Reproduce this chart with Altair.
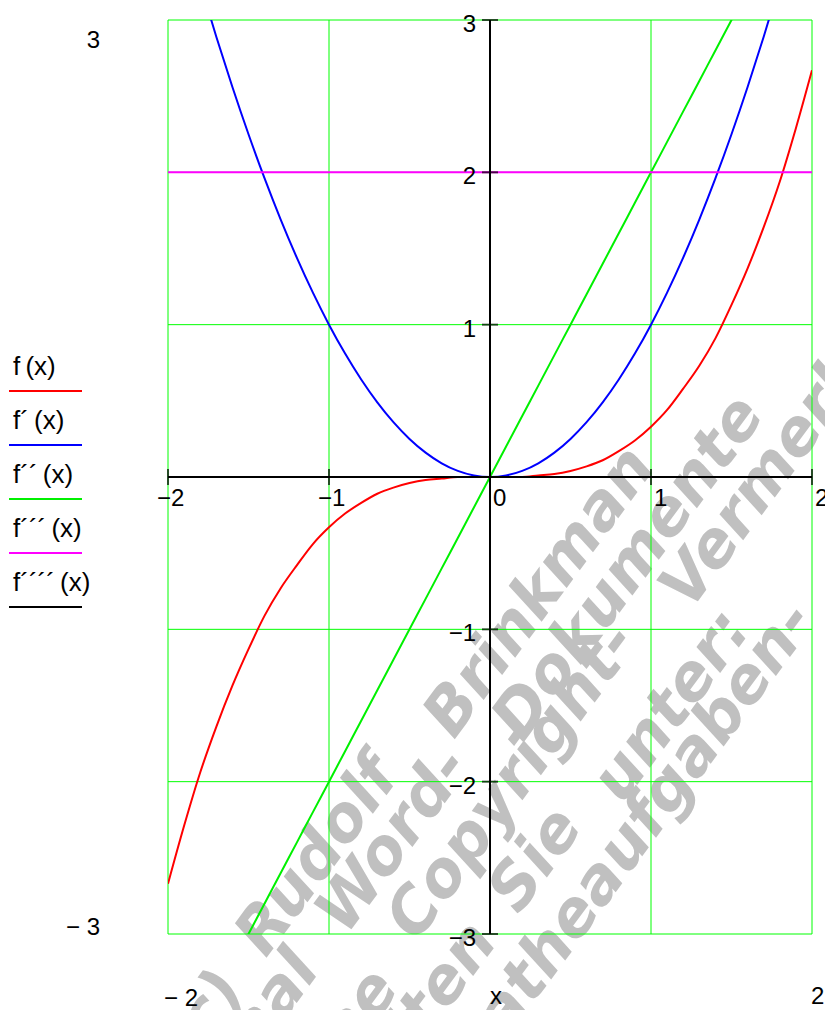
import altair as alt
import pandas as pd

# ---- sampled curves -----------------------------------------------------
x_vals = [-2.0, -1.9, -1.8, -1.7, -1.6, -1.5, -1.4, -1.3, -1.2, -1.1, -1.0,
          -0.9, -0.8, -0.7, -0.6, -0.5, -0.4, -0.3, -0.2, -0.1, 0.0,
          0.1, 0.2, 0.3, 0.4, 0.5, 0.6, 0.7, 0.8, 0.9, 1.0,
          1.1, 1.2, 1.3, 1.4, 1.5, 1.6, 1.7, 1.8, 1.9, 2.0]
f_vals = [-2.67, -2.29, -1.94, -1.64, -1.37, -1.13, -0.91, -0.73, -0.58, -0.44, -0.33,
          -0.24, -0.17, -0.11, -0.07, -0.04, -0.02, -0.01, 0.0, 0.0, 0.0,
          0.0, 0.0, 0.01, 0.02, 0.04, 0.07, 0.11, 0.17, 0.24, 0.33,
          0.44, 0.58, 0.73, 0.91, 1.13, 1.37, 1.64, 1.94, 2.29, 2.67]
f1_vals = [4.0, 3.61, 3.24, 2.89, 2.56, 2.25, 1.96, 1.69, 1.44, 1.21, 1.0,
           0.81, 0.64, 0.49, 0.36, 0.25, 0.16, 0.09, 0.04, 0.01, 0.0,
           0.01, 0.04, 0.09, 0.16, 0.25, 0.36, 0.49, 0.64, 0.81, 1.0,
           1.21, 1.44, 1.69, 1.96, 2.25, 2.56, 2.89, 3.24, 3.61, 4.0]
f2_vals = [-4.0, -3.8, -3.6, -3.4, -3.2, -3.0, -2.8, -2.6, -2.4, -2.2, -2.0,
           -1.8, -1.6, -1.4, -1.2, -1.0, -0.8, -0.6, -0.4, -0.2, 0.0,
           0.2, 0.4, 0.6, 0.8, 1.0, 1.2, 1.4, 1.6, 1.8, 2.0,
           2.2, 2.4, 2.6, 2.8, 3.0, 3.2, 3.4, 3.6, 3.8, 4.0]
x_ends = [-2.0, 2.0]
f3_vals = [2.0, 2.0]
f4_vals = [0.0, 0.0]

series_names = ["f(x)", "f´(x)", "f´´(x)", "f´´´(x)", "f´´´´(x)"]
series_colors = ["#ff0000", "#0000ff", "#00f000", "#ff00ff", "#000000"]

grid_x = [-2, -1, 0, 1, 2]
grid_y = [-3, -2, -1, 0, 1, 2, 3]
tick_x = [-2, -1, 0, 1, 2]
tick_x_text = ["−2", "−1", "0", "1", "2"]
tick_y = [-3, -2, -1, 1, 2, 3]
tick_y_text = ["−3", "−2", "−1", "1", "2", "3"]

# ---- layout ---------------------------------------------------------------
W, H = 644, 914
LEFT, TOP = 168, 20
FONT = "Liberation Sans"
FS = 24
GRID = "#00ff00"

xs = alt.Scale(domain=[-2, 2], nice=False, zero=False)
ys = alt.Scale(domain=[-3, 3], nice=False, zero=False)

one = pd.DataFrame({"k": [0]})


def px(x):
    return alt.value(x - LEFT)


def py(y):
    return alt.value(y - TOP)


curves = pd.concat([
    pd.DataFrame({"x": x_vals, "y": f_vals, "name": series_names[0]}),
    pd.DataFrame({"x": x_vals, "y": f1_vals, "name": series_names[1]}),
    pd.DataFrame({"x": x_vals, "y": f2_vals, "name": series_names[2]}),
    pd.DataFrame({"x": x_ends, "y": f3_vals, "name": series_names[3]}),
    pd.DataFrame({"x": x_ends, "y": f4_vals, "name": series_names[4]}),
])

layers = []

# watermark, drawn underneath everything
wm_words = [
    ("(c)", 204, 1017), ("Rudolf", 318, 856), ("Brinkman", 540, 592),
    ("Original", 222, 1072), ("Word-", 394, 840), ("Dokumente", 629, 568),
    ("ohne", 333, 1048), ("Copyright-", 513, 781), ("Vermerk", 764, 480),
    ("erhalten", 394, 1051), ("Sie", 536, 860), ("unter:", 672, 706),
    ("matheaufgaben-", 627, 845),
]
for word, cx, cy in wm_words:
    layers.append(
        alt.Chart(one).mark_text(
            font="DejaVu Sans", fontSize=63, fontWeight="bold", fontStyle="italic",
            color="#c0c0c0", angle=306.5, align="center", baseline="middle",
        ).encode(x=px(cx), y=py(cy), text=alt.value(word))
    )

# grid
layers.append(
    alt.Chart(pd.DataFrame({"gx": grid_x})).mark_rule(color=GRID, strokeWidth=1)
    .encode(x=alt.X("gx:Q", scale=xs, axis=None))
)
layers.append(
    alt.Chart(pd.DataFrame({"gy": grid_y})).mark_rule(color=GRID, strokeWidth=1)
    .encode(y=alt.Y("gy:Q", scale=ys, axis=None))
)

# curves
layers.append(
    alt.Chart(curves).mark_line(strokeWidth=2, clip=True, interpolate="monotone")
    .encode(
        x=alt.X("x:Q", scale=xs, axis=None),
        y=alt.Y("y:Q", scale=ys, axis=None),
        color=alt.Color("name:N", scale=alt.Scale(domain=series_names, range=series_colors), legend=None),
    )
)

# crossing axes through the origin
layers.append(
    alt.Chart(pd.DataFrame({"v": [0]})).mark_rule(color="black", strokeWidth=2)
    .encode(y=alt.Y("v:Q", scale=ys, axis=None))
)
layers.append(
    alt.Chart(pd.DataFrame({"v": [0]})).mark_rule(color="black", strokeWidth=2)
    .encode(x=alt.X("v:Q", scale=xs, axis=None))
)

xt = pd.DataFrame({"t": tick_x, "lab": tick_x_text})
yt = pd.DataFrame({"t": tick_y, "lab": tick_y_text})

layers.append(
    alt.Chart(xt).transform_calculate(o="0")
    .mark_tick(orient="vertical", size=16, thickness=2, color="black")
    .encode(x=alt.X("t:Q", scale=xs, axis=None), y=alt.Y("o:Q", scale=ys, axis=None))
)
layers.append(
    alt.Chart(yt).transform_calculate(o="0")
    .mark_tick(orient="horizontal", size=16, thickness=2, color="black")
    .encode(x=alt.X("o:Q", scale=xs, axis=None), y=alt.Y("t:Q", scale=ys, axis=None))
)

# tick labels: digit starts just right of the tick, minus hangs to the left
for cond, shift in [("datum.t < 0", -11), ("datum.t >= 0", 3)]:
    layers.append(
        alt.Chart(xt).transform_filter(cond).transform_calculate(o="0")
        .mark_text(font=FONT, fontSize=FS, align="left", baseline="alphabetic", dx=shift, dy=29)
        .encode(x=alt.X("t:Q", scale=xs, axis=None), y=alt.Y("o:Q", scale=ys, axis=None), text="lab:N")
    )
layers.append(
    alt.Chart(yt).transform_calculate(o="0")
    .mark_text(font=FONT, fontSize=FS, align="right", baseline="alphabetic", dx=-14, dy=12)
    .encode(x=alt.X("o:Q", scale=xs, axis=None), y=alt.Y("t:Q", scale=ys, axis=None), text="lab:N")
)

# range labels around the plot
for txt, x, y, al in [("3", 100, 48, "right"), ("− 3", 100, 935, "right"),
                      ("− 2", 164, 1006, "left"), ("2", 811, 1004, "left"),
                      ("x", 496, 1004, "center")]:
    layers.append(
        alt.Chart(one).mark_text(font=FONT, fontSize=FS, align=al, baseline="alphabetic")
        .encode(x=px(x), y=py(y), text=alt.value(txt))
    )

# legend: label above a short line of the series colour
legend_text = ["f\u2009(x)", "f´\u2009(x)", "f´´\u2009(x)", "f´´´\u2009(x)", "f´´´´\u2009(x)"]
for i, (name, col) in enumerate(zip(legend_text, series_colors)):
    layers.append(
        alt.Chart(one).mark_text(font=FONT, fontSize=26, align="left", baseline="alphabetic")
        .encode(x=px(13), y=py(375 + 54 * i), text=alt.value(name))
    )
    layers.append(
        alt.Chart(one).mark_rule(color=col, strokeWidth=2)
        .encode(x=px(9), x2=px(82), y=py(391 + 54 * i))
    )

chart = alt.layer(*layers).properties(
    width=W, height=H,
    autosize=alt.AutoSizeParams(type="none"),
    padding={"left": LEFT, "top": TOP, "right": 825 - LEFT - W, "bottom": 1010 - TOP - H},
    background="white",
).configure_view(stroke=None)

chart.save("out.html", embed_options={"renderer": "svg", "actions": False})
